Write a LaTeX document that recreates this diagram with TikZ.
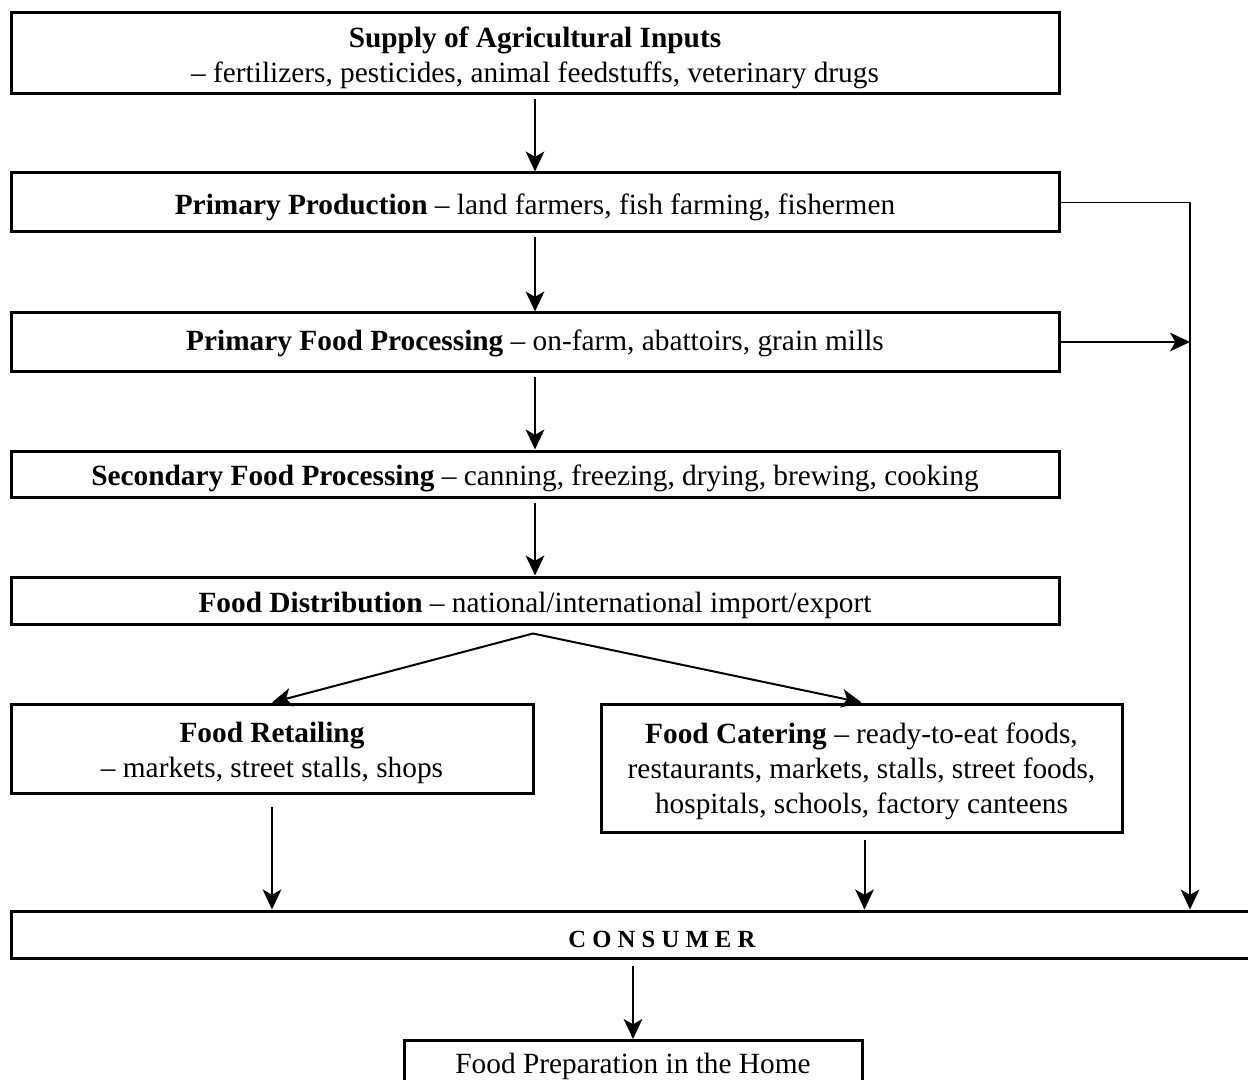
\documentclass[tikz,border=0pt]{standalone}
\usepackage{fontspec}
\setmainfont{Liberation Serif}
\usetikzlibrary{arrows.meta,calc}
\newcommand{\topstrut}{\rule{0pt}{22.5pt}}
\begin{document}
\begin{tikzpicture}[x=0.75pt,y=-0.75pt,
  font=\fontsize{22}{26.25}\selectfont,
  bx/.style 2 args={draw, line width=2.25pt, align=center, inner sep=0pt,
     minimum width=#1*0.75pt, minimum height=#2*0.75pt},
  lower text/.style={execute at begin node={\rule{0pt}{22.5pt}}},
  arr/.style={line width=1.5pt, -{Stealth[length=15pt,width=14pt,inset=4pt]}},
  thin line/.style={line width=1pt}]
\useasboundingbox (0,0) rectangle (1248,1080);
\clip (0,0) rectangle (1248,1080);
\node[bx={1048}{81}] (b1) at (535,53.5) {\topstrut\textbf{Supply of Agricultural Inputs}\\– fertilizers, pesticides, animal feedstuffs, veterinary drugs};
\node[bx={1048}{59}, lower text] (b2) at (535,202.5) {\textbf{Primary Production} – land farmers, fish farming, fishermen};
\node[bx={1048}{58}, execute at begin node={\rule{0pt}{18pt}}] (b3) at (535,342) {\textbf{Primary Food Processing} – on-farm, abattoirs, grain mills};
\node[bx={1048}{46}, lower text] (b4) at (535,474) {\textbf{Secondary Food Processing} – canning, freezing, drying, brewing, cooking};
\node[bx={1048}{47}, lower text] (b5) at (535,600.5) {\textbf{Food Distribution} – national/international import/export};
\node[bx={522}{89}] (ret) at (272,748.5) {\topstrut\textbf{Food Retailing}\\– markets, street stalls, shops};
\node[bx={521}{128}] (cat) at (861.5,768) {\rule{0pt}{20.5pt}\textbf{Food Catering} – ready-to-eat foods,\\restaurants, markets, stalls, street foods,\\hospitals, schools, factory canteens};
\node[bx={1302}{47}, font=\fontsize{18.5}{22}\selectfont, execute at begin node={\rule{0pt}{19pt}}] (cons) at (662,934.5) {\textbf{C O N S U M E R}};
\node[bx={458}{52}, anchor=north] (home) at (633,1039) {Food Preparation in the Home};
% vertical arrows
\draw[arr] ($(b1.south)+(0,4)$) -- (b2.north);
\draw[arr] ($(b2.south)+(0,4)$) -- (b3.north);
\draw[arr] ($(b3.south)+(0,4)$) -- (b4.north);
\draw[arr] ($(b4.south)+(0,4)$) -- (b5.north);
\coordinate (apex) at ($(b5.south)+(-2,8)$);
\draw[arr] (apex) -- (ret.north);
\draw[arr] (apex) -- (cat.north);
\draw[arr] ($(ret.south)+(0,12)$) -- (ret.south |- cons.north);
\draw[arr] ($(cat.south)+(3,6)$) -- ($(cat.south |- cons.north)+(3,0)$);
\draw[arr] ($(cons.south -| home.north)+(0,6)$) -- (home.north);
% right bypass
\coordinate (rc) at (1190,202.5);
\draw[thin line] (b2.east) -- (rc);
\draw[thin line, -{Stealth[length=15pt,width=14pt,inset=4pt]}] (rc) -- (rc |- cons.north);
\draw[arr] (b3.east) -- (b3.east -| rc);
\end{tikzpicture}
\end{document}
